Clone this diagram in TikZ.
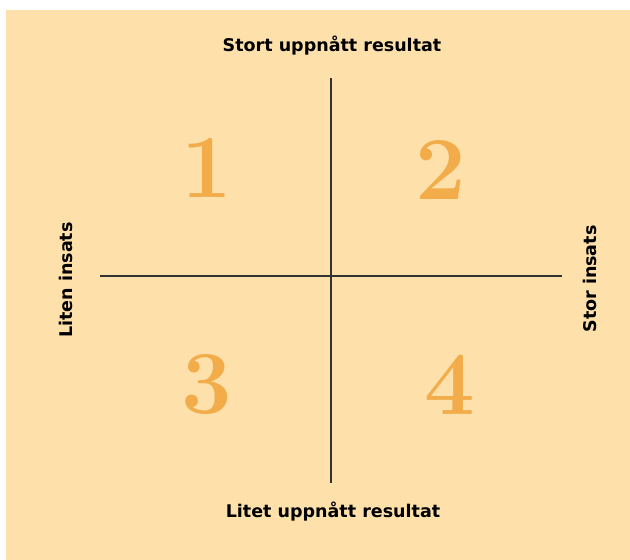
\documentclass[tikz,border=0pt]{standalone}
\usepackage{fontspec}
\newfontfamily\handfont{DejaVu Sans}
\usepackage{xcolor}
\usepackage{tikz}
\usetikzlibrary{positioning}
\definecolor{paper}{HTML}{FDE0AA}
\definecolor{digit}{HTML}{F2AC4A}

\begin{document}
\begin{tikzpicture}[
 x=1pt,y=-1pt,
 axis/.style={draw=black!80,line width=1.6pt},
 label/.style={font=\handfont\bfseries\fontsize{17.5}{18}\selectfont,inner sep=0pt},
 quad/.style={text=digit,font=\bfseries\fontsize{90}{90}\selectfont,inner sep=0pt}]
\useasboundingbox (0,0) rectangle (630,560);
\fill[paper] (6,10) rectangle (630,560);
% axes
\coordinate (top) at (331,78);
\coordinate (bottom) at (331,483);
\coordinate (left) at (100,276);
\coordinate (right) at (562,276);
\draw[axis] (top) -- (bottom);
\draw[axis] (left) -- (right);
% axis labels
\node[label] (high) at (332,46) {Stort uppnått resultat};
\node[label] (low) at (333,512) {Litet uppnått resultat};
\node[label,rotate=90] (small) at (66,280) {Liten insats};
\node[label,rotate=90] (large) at (590,279) {Stor insats};
% quadrants
\node[quad] (q1) at (207,168) {1};
\node[quad] (q2) at (441,170) {2};
\node[quad] (q3) at (207,385) {3};
\node[quad] (q4) at (450,385) {4};
\end{tikzpicture}
\end{document}
